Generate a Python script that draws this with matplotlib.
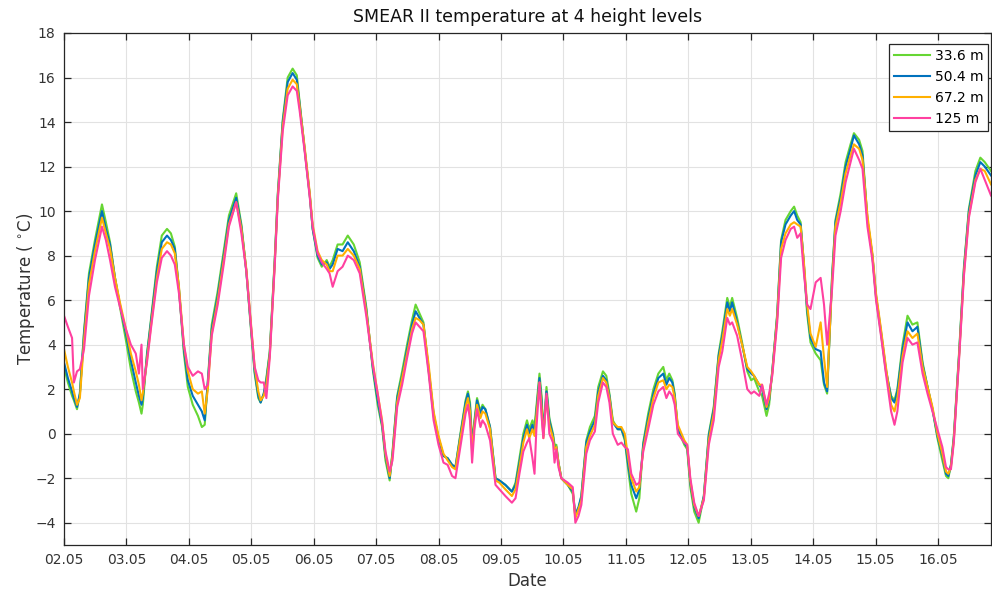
import matplotlib
matplotlib.use('Agg')
import matplotlib.pyplot as plt
import matplotlib.dates as mdates
import numpy as np

# hours since 02.05 00:00
hours = [0, 1.5, 3.1, 3.8, 5.0, 6.1, 7.7, 9.6, 11.9, 14.6,
         16.1, 17.7, 19.6, 21.5, 23.8, 25.7, 27.6, 28.8, 29.8, 30.3,
         31.9, 33.4, 35.7, 37.6, 39.6, 41.1, 42.6, 44.2, 46.1, 47.6,
         49.5, 51.5, 53.0, 54.1, 55.3, 56.8, 59.1, 61.4, 63.4, 66.2,
         68.2, 70.1, 72.0, 73.3, 74.7, 75.6, 76.8, 77.8, 79.1, 81.0,
         82.2, 84.1, 86.0, 87.9, 89.5, 90.6, 92.5, 94.5, 95.6, 97.5,
         99.1, 101.0, 102.1, 103.3, 105.2, 107.1, 109.1, 111.4, 113.7, 116.2,
         118.7, 120.6, 122.3, 123.6, 125.2, 126.3, 128.1, 130.0, 131.9, 133.8,
         135.2, 136.7, 138.2, 140.2, 142.1, 144.0, 145.9, 147.5, 149.2, 150.5,
         152.4, 154.4, 155.3, 156.1, 156.9, 157.8, 158.8, 160.1, 160.9, 162.0,
         163.8, 165.9, 167.4, 169.7, 172.2, 173.6, 175.1, 176.6, 178.0, 178.9,
         180.1, 180.9, 181.6, 182.8, 183.6, 184.3, 185.5, 186.6, 188.0, 188.6,
         189.3, 190.1, 191.2, 193.7, 195.6, 196.6, 197.8, 198.9, 200.8, 202.2,
         204.1, 205.4, 207.2, 208.5, 209.7, 211.0, 212.9, 214.3, 215.6, 216.8,
         218.1, 220.0, 221.2, 222.7, 224.6, 226.6, 228.5, 230.4, 231.6, 232.7,
         233.9, 234.8, 236.0, 238.5, 239.6, 240.8, 242.3, 244.0, 246.0, 247.9,
         249.8, 251.7, 253.1, 255.0, 256.0, 256.9, 258.8, 260.7, 262.7, 264.2,
         265.3, 267.3, 268.4, 270.1, 271.1, 272.3, 274.2, 275.7, 277.4, 279.4,
         280.7, 281.9, 283.2, 284.4, 285.7, 287.0, 289.0, 290.9, 292.2, 293.4,
         295.3, 296.6, 298.6, 300.5, 302.4, 303.7, 305.7, 307.0, 308.9, 310.8,
         312.2, 314.1, 316.0, 318.0, 319.3, 320.4, 322.4, 324.3, 326.2, 328.1,
         330.1, 332.0, 333.9, 335.8, 337.7, 339.1, 340.0, 341.0, 342.1, 344.1,
         346.0, 347.9, 350.4, 352.3, 354.0, 356.4]

t336 = [3.0, 2.3, 1.7, 1.5, 1.1, 1.8, 4.6, 7.2, 8.7, 10.3,
        9.5, 8.6, 7.0, 5.7, 4.2, 2.9, 1.9, 1.4, 0.9, 1.3,
        3.6, 5.1, 7.5, 8.9, 9.2, 9.0, 8.4, 6.5, 3.6, 2.1,
        1.3, 0.8, 0.3, 0.4, 2.4, 4.9, 6.4, 8.2, 9.8, 10.8,
        9.4, 7.3, 4.5, 2.7, 1.6, 1.4, 1.8, 2.5, 3.7, 7.8,
        10.8, 14.1, 16.0, 16.4, 16.1, 14.9, 12.8, 10.7, 9.2, 7.9,
        7.5, 7.8, 7.5, 7.8, 8.5, 8.5, 8.9, 8.5, 7.7, 5.7,
        2.9, 1.3, 0.3, -1.2, -2.1, -0.8, 1.7, 2.8, 4.0, 5.1,
        5.8, 5.4, 5.0, 2.8, 0.8, -0.2, -1.0, -1.1, -1.4, -1.5,
        0.0, 1.5, 1.9, 1.4, -0.4, 0.6, 1.6, 1.0, 1.3, 1.1,
        0.3, -2.0, -2.1, -2.3, -2.6, -2.2, -1.1, 0.0, 0.6, 0.2,
        0.6, 0.3, 1.2, 2.7, 1.7, 0.0, 2.1, 0.7, 0.0, -0.5,
        -0.5, -1.3, -2.0, -2.3, -2.7, -3.7, -3.4, -2.8, -0.3, 0.3,
        0.8, 2.1, 2.8, 2.6, 1.8, 0.6, 0.2, 0.2, -0.3, -1.5,
        -2.7, -3.5, -2.9, -0.4, 0.9, 2.0, 2.7, 3.0, 2.4, 2.7,
        2.4, 1.8, 0.2, -0.5, -0.7, -2.4, -3.5, -4.0, -2.8, 0.0,
        1.2, 3.6, 4.6, 6.1, 5.7, 6.1, 5.2, 4.1, 2.8, 2.4,
        2.5, 1.9, 1.7, 0.8, 1.3, 2.8, 5.4, 8.7, 9.6, 10.0,
        10.2, 9.8, 9.5, 7.7, 5.4, 4.1, 3.6, 3.3, 2.2, 1.8,
        7.1, 9.6, 10.8, 12.2, 13.0, 13.5, 13.2, 12.7, 9.6, 8.0,
        6.1, 4.5, 2.8, 1.7, 1.5, 2.0, 4.0, 5.3, 4.9, 5.0,
        3.2, 2.1, 1.1, -0.2, -1.2, -1.9, -2.0, -1.4, -0.1, 3.6,
        7.5, 10.1, 11.8, 12.4, 12.2, 11.8]

t504 = [3.2, 2.5, 1.9, 1.6, 1.2, 1.8, 4.5, 7.0, 8.5, 10.0,
        9.2, 8.5, 7.0, 5.8, 4.5, 3.3, 2.3, 1.7, 1.3, 1.6,
        3.5, 5.0, 7.3, 8.6, 8.9, 8.7, 8.3, 6.5, 3.8, 2.4,
        1.7, 1.3, 1.0, 0.6, 2.3, 4.7, 6.2, 8.0, 9.6, 10.6,
        9.3, 7.3, 4.6, 2.8, 1.7, 1.4, 1.8, 2.4, 3.6, 7.7,
        10.7, 14.0, 15.8, 16.2, 15.9, 14.8, 12.8, 10.7, 9.2, 8.0,
        7.6, 7.7, 7.4, 7.6, 8.3, 8.2, 8.6, 8.2, 7.5, 5.6,
        3.0, 1.5, 0.4, -1.0, -2.0, -0.9, 1.6, 2.6, 3.8, 4.9,
        5.5, 5.2, 4.9, 2.9, 0.9, -0.2, -1.0, -1.1, -1.4, -1.5,
        -0.1, 1.4, 1.8, 1.2, -0.6, 0.5, 1.5, 0.9, 1.2, 1.1,
        0.3, -2.0, -2.1, -2.3, -2.6, -2.3, -1.3, -0.2, 0.4, 0.0,
        0.4, 0.0, 1.0, 2.5, 1.5, -0.1, 1.9, 0.6, -0.1, -0.6,
        -0.6, -1.3, -2.0, -2.3, -2.6, -3.6, -3.3, -2.8, -0.4, 0.1,
        0.6, 1.9, 2.6, 2.4, 1.7, 0.5, 0.2, 0.2, -0.2, -1.3,
        -2.3, -2.9, -2.5, -0.5, 0.7, 1.8, 2.5, 2.7, 2.2, 2.5,
        2.3, 1.7, 0.2, -0.4, -0.6, -2.2, -3.3, -3.8, -2.8, -0.1,
        1.1, 3.5, 4.4, 5.9, 5.5, 5.9, 5.0, 4.0, 2.9, 2.7,
        2.6, 2.2, 2.0, 1.1, 1.5, 2.8, 5.3, 8.6, 9.4, 9.8,
        10.0, 9.6, 9.4, 7.7, 5.6, 4.3, 3.8, 3.7, 2.3, 1.9,
        7.0, 9.5, 10.6, 12.0, 12.8, 13.4, 13.0, 12.5, 9.6, 8.0,
        6.2, 4.6, 2.9, 1.6, 1.4, 1.9, 3.8, 5.0, 4.6, 4.8,
        3.1, 2.1, 1.1, -0.1, -1.0, -1.8, -1.9, -1.4, -0.2, 3.5,
        7.4, 10.0, 11.6, 12.2, 12.0, 11.6]

t672 = [3.8, 3.0, 2.3, 1.9, 1.3, 1.6, 4.2, 6.7, 8.2, 9.7,
        9.0, 8.3, 7.0, 5.9, 4.7, 3.6, 2.8, 2.2, 1.5, 1.8,
        3.3, 4.8, 7.0, 8.3, 8.6, 8.5, 8.1, 6.6, 4.0, 2.8,
        2.0, 1.8, 1.9, 0.9, 2.0, 4.5, 6.0, 7.8, 9.4, 10.4,
        9.2, 7.4, 4.8, 3.0, 1.9, 1.5, 1.7, 2.2, 3.5, 7.6,
        10.6, 13.8, 15.5, 15.9, 15.7, 14.7, 12.9, 10.8, 9.4, 8.2,
        7.8, 7.6, 7.3, 7.3, 8.0, 8.0, 8.3, 8.0, 7.4, 5.5,
        3.2, 1.8, 0.6, -0.9, -1.9, -1.0, 1.4, 2.5, 3.6, 4.7,
        5.2, 5.1, 4.9, 3.1, 1.0, -0.1, -0.9, -1.2, -1.5, -1.6,
        -0.2, 1.2, 1.6, 1.0, -0.8, 0.4, 1.3, 0.7, 1.0, 0.9,
        0.2, -2.1, -2.2, -2.5, -2.8, -2.5, -1.5, -0.4, 0.2, -0.2,
        0.2, -0.1, 0.8, 2.3, 1.2, -0.2, 1.7, 0.4, -0.2, -0.7,
        -0.6, -1.3, -2.0, -2.3, -2.5, -3.8, -3.4, -3.0, -0.6, -0.1,
        0.4, 1.7, 2.5, 2.3, 1.6, 0.5, 0.3, 0.3, 0.0, -1.0,
        -2.0, -2.6, -2.4, -0.7, 0.5, 1.6, 2.3, 2.4, 2.0, 2.2,
        2.1, 1.6, 0.4, -0.3, -0.5, -2.1, -3.2, -3.7, -2.9, -0.3,
        0.9, 3.3, 4.2, 5.6, 5.3, 5.6, 4.9, 4.0, 3.0, 2.8,
        2.6, 2.2, 2.2, 1.2, 1.6, 2.7, 5.2, 8.3, 9.0, 9.4,
        9.5, 9.4, 9.3, 7.8, 5.8, 4.5, 3.9, 5.0, 3.4, 2.1,
        6.8, 9.3, 10.4, 11.7, 12.5, 13.0, 12.8, 12.3, 9.8, 8.1,
        6.3, 4.7, 3.0, 1.3, 1.0, 1.6, 3.5, 4.6, 4.3, 4.5,
        3.0, 2.1, 1.2, 0.0, -0.9, -1.7, -1.8, -1.5, -0.3, 3.4,
        7.2, 9.8, 11.4, 11.9, 11.8, 11.2]

t125 = [5.3, 4.8, 4.3, 2.3, 2.8, 2.9, 3.8, 6.2, 7.8, 9.3,
        8.7, 7.8, 6.6, 5.7, 4.7, 4.0, 3.6, 2.7, 4.0, 2.0,
        3.2, 4.7, 6.8, 7.9, 8.2, 8.0, 7.6, 6.3, 4.0, 3.0,
        2.6, 2.8, 2.7, 2.0, 2.2, 4.4, 5.8, 7.6, 9.3, 10.4,
        9.0, 7.3, 4.7, 3.0, 2.4, 2.3, 2.3, 1.6, 3.4, 7.5,
        10.5, 13.6, 15.2, 15.6, 15.4, 14.5, 12.7, 10.6, 9.3, 8.1,
        7.7, 7.4, 7.2, 6.6, 7.3, 7.5, 8.0, 7.8, 7.2, 5.3,
        3.1, 1.8, 0.5, -0.8, -1.7, -1.2, 1.2, 2.2, 3.4, 4.5,
        5.0, 4.8, 4.6, 2.7, 0.6, -0.5, -1.3, -1.4, -1.9, -2.0,
        -0.6, 0.9, 1.3, 0.6, -1.3, 0.2, 1.1, 0.3, 0.6, 0.4,
        -0.3, -2.3, -2.5, -2.8, -3.1, -2.9, -1.8, -0.8, -0.4, -0.2,
        -1.1, -1.8, 0.2, 2.3, 0.8, -0.2, 1.8, 0.0, -0.4, -1.3,
        -0.7, -1.5, -2.0, -2.2, -2.4, -4.0, -3.7, -3.2, -0.9, -0.3,
        0.1, 1.4, 2.3, 2.1, 1.4, 0.0, -0.5, -0.4, -0.6, -0.7,
        -1.8, -2.3, -2.2, -0.8, 0.2, 1.3, 1.9, 2.1, 1.6, 1.9,
        1.7, 1.3, 0.0, -0.4, -0.5, -2.0, -3.1, -3.7, -3.0, -0.5,
        0.6, 3.0, 3.7, 5.2, 4.9, 5.0, 4.4, 3.3, 2.0, 1.8,
        1.9, 1.7, 2.2, 1.3, 1.8, 2.6, 5.0, 7.9, 8.7, 9.2,
        9.3, 8.8, 9.0, 7.3, 5.8, 5.6, 6.8, 7.0, 5.8, 4.0,
        6.5, 8.9, 10.0, 11.3, 12.2, 12.8, 12.3, 11.9, 9.3, 7.8,
        6.0, 4.4, 2.7, 1.0, 0.4, 1.0, 3.2, 4.3, 4.0, 4.1,
        2.7, 1.8, 1.0, 0.2, -0.6, -1.5, -1.6, -1.6, -0.4, 3.3,
        7.1, 9.7, 11.3, 11.9, 11.4, 10.7]

labels = ['33.6 m', '50.4 m', '67.2 m', '125 m']
colors = ['#66D633', '#0072BD', '#FFB000', '#FF40A0']

start = np.datetime64('2017-05-02T00:00')
time = start + (np.array(hours) * 60).astype('timedelta64[m]')
end = start + np.timedelta64(int(356.4 * 60), 'm')

plt.rcParams['font.family'] = 'DejaVu Sans'
plt.rcParams['mathtext.fontset'] = 'dejavusans'

fig = plt.figure(figsize=(9.92, 6.01), dpi=100)
ax = fig.add_axes([64 / 992, 1 - 545 / 601, (991 - 64) / 992, (545 - 33) / 601])

for vals, lab, col in zip([t336, t504, t672, t125], labels, colors):
    ax.plot(time, vals, color=col, lw=1.5, label=lab)

ax.set_xlim(start, end)
ax.set_ylim(-5, 18)
ax.set_yticks(np.arange(-4, 19, 2))
ax.xaxis.set_major_locator(mdates.DayLocator())
ax.xaxis.set_major_formatter(mdates.DateFormatter('%d.%m'))

ax.grid(True, color='#e2e2e2', lw=0.8)
ax.set_axisbelow(True)
for s in ax.spines.values():
    s.set_color('#262626')
    s.set_linewidth(0.9)
ax.tick_params(direction='in', top=True, right=True, length=5, width=0.9,
               color='#262626', labelcolor='#333333', labelsize=10, pad=6)

ax.set_title('SMEAR II temperature at 4 height levels', fontsize=12.5, color='#111111', pad=8)
ax.set_xlabel('Date', fontsize=12, color='#333333', labelpad=3)
ax.set_ylabel('Temperature ( $^{\\circ}$C)', fontsize=12, color='#333333', labelpad=-1)

leg = ax.legend(loc='upper right', bbox_to_anchor=(988 / 992, 1 - 44 / 601),
                bbox_transform=fig.transFigure, borderaxespad=0, fontsize=10,
                fancybox=False, framealpha=1, edgecolor='#262626',
                handlelength=2.6, handletextpad=0.35, labelspacing=0.5,
                borderpad=0.35)
leg.get_frame().set_linewidth(0.9)

fig.savefig('out.png', dpi=100)
